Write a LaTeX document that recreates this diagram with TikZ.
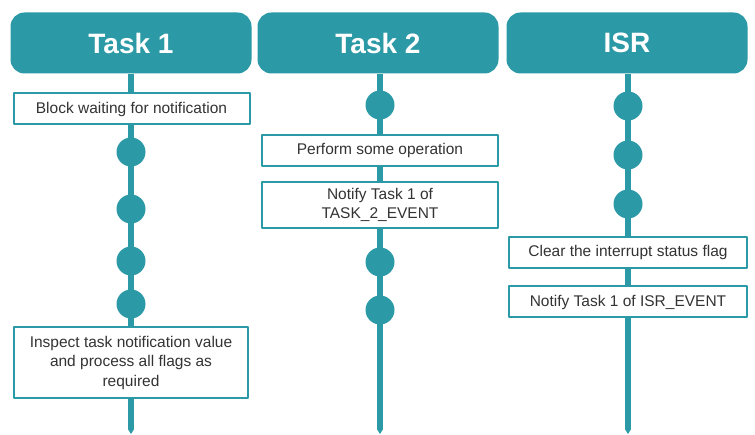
\documentclass[tikz,border=0pt]{standalone}
\usepackage{fontspec}
\setmainfont{Liberation Sans}
\usetikzlibrary{arrows.meta,positioning}
\definecolor{lanecol}{HTML}{2B9AA6}
\definecolor{boxtext}{HTML}{333333}
\begin{document}
\begin{tikzpicture}[x=1pt, y=-1pt, line join=round,
    header/.style={fill=lanecol, rounded corners=14pt, minimum width=241pt, minimum height=61pt,
        text=white, font=\fontsize{28}{30}\selectfont\bfseries},
    stepbox/.style={draw=lanecol, line width=2pt, fill=white, minimum width=236pt, minimum height=31pt,
        text=boxtext, font=\fontsize{15.5}{19.5}\selectfont, align=center, inner sep=2pt},
    dot/.style={circle, fill=lanecol, minimum size=29pt, inner sep=0pt},
    timeline/.style={draw=lanecol, line width=6pt, -{Triangle[width=6pt,length=5pt]}}]
  \useasboundingbox (0,0) rectangle (755,435);
  % lane headers
  \node[header] (task1) at (131,43) {Task 1};
  \node[header] (task2) at (378,43) {Task 2};
  \node[header] (isr) at (627,43) {ISR};
  \coordinate (task1end) at (131,434);
  \coordinate (task2end) at (380,434);
  \coordinate (isrend) at (628,434);
  \draw[timeline] (task1.south) -- (task1end);
  \draw[timeline] (task2.south -| task2end) -- (task2end);
  \draw[timeline] (isr.south -| isrend) -- (isrend);
  % Task 1
  \node[stepbox] (block) at (131.5,109) {Block waiting for notification};
  \foreach \y/\n in {152/a, 209/b, 261/c, 304/d}
    \node[dot] (t1\n) at (131,\y) {};
  \node[stepbox, minimum width=234pt, minimum height=71pt] (inspect) at (131,362.5)
    {Inspect task notification value\\and process all flags as\\required};
  % Task 2
  \node[dot] (t2a) at (380,105) {};
  \node[stepbox] (perform) at (380,150.5) {Perform some operation};
  \node[stepbox, minimum height=46pt] (notifytwo) at (380,205) {Notify Task 1 of\\TASK\_2\_EVENT};
  \foreach \y/\n in {262/b, 310/c}
    \node[dot] (t2\n) at (380,\y) {};
  % ISR
  \foreach \y/\n in {106/a, 155/b, 204/c}
    \node[dot] (isr\n) at (628,\y) {};
  \node[stepbox, minimum width=238pt] (clear) at (628,252.5) {Clear the interrupt status flag};
  \node[stepbox, minimum width=238pt] (notifyisr) at (628,302) {Notify Task 1 of ISR\_EVENT};
\end{tikzpicture}
\end{document}
